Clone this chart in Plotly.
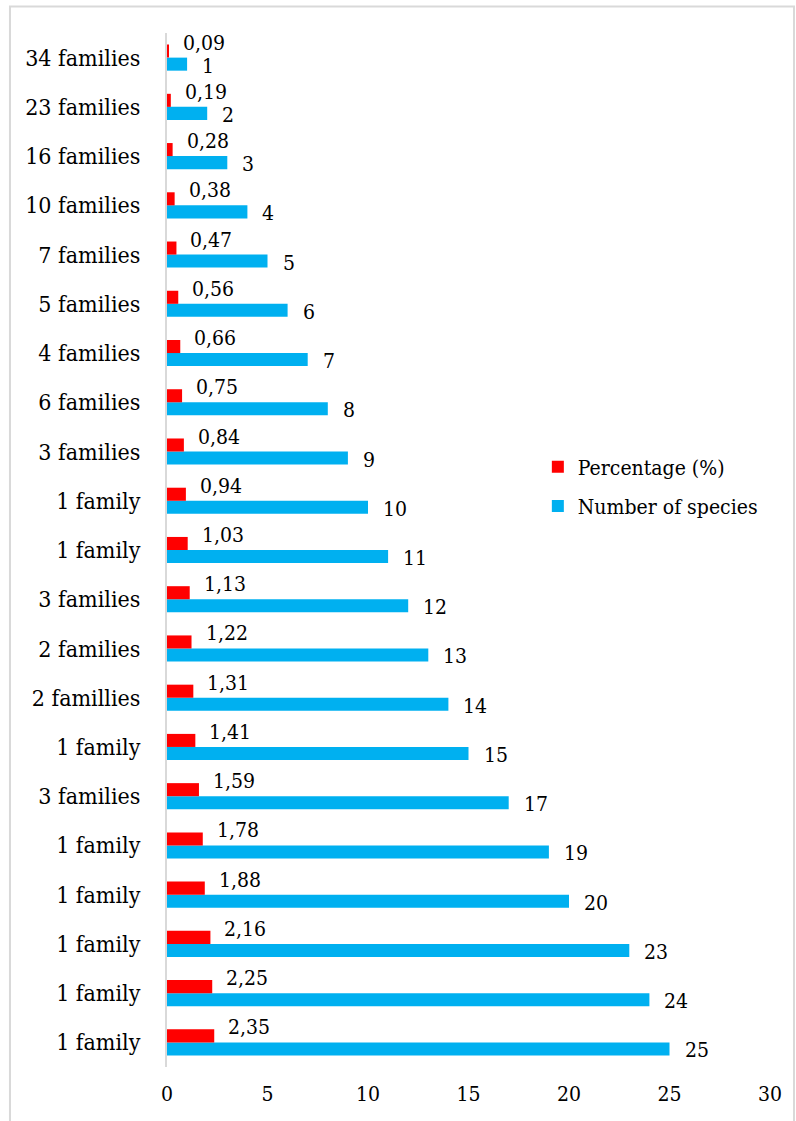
import plotly.graph_objects as go

# Data (bottom to top)
group_labels = ["1 family", "1 family", "1 family", "1 family", "1 family", "3 families",
                "1 family", "2 famillies", "2 families", "3 families", "1 family", "1 family",
                "3 families", "6 families", "4 families", "5 families", "7 families",
                "10 families", "16 families", "23 families", "34 families"]
species = [25, 24, 23, 20, 19, 17, 15, 14, 13, 12, 11, 10, 9, 8, 7, 6, 5, 4, 3, 2, 1]
percentage = [2.35, 2.25, 2.16, 1.88, 1.78, 1.59, 1.41, 1.31, 1.22, 1.13, 1.03, 0.94,
              0.84, 0.75, 0.66, 0.56, 0.47, 0.38, 0.28, 0.19, 0.09]
x_ticks = [0, 5, 10, 15, 20, 25, 30]

FONT = "DejaVu Serif Condensed, DejaVu Serif"
RED = "#FF0000"
BLUE = "#00B0F0"

pos = list(range(len(group_labels)))

fig = go.Figure()
fig.add_trace(go.Bar(y=pos, x=species, orientation="h", name="Number of species",
                     marker=dict(color=BLUE, line=dict(width=0)), legendgroup="b", legendrank=2))
fig.add_trace(go.Bar(y=pos, x=percentage, orientation="h", name="Percentage (%)",
                     marker=dict(color=RED, line=dict(width=0)), legendgroup="a", legendrank=1))

annotations = []
for p, v in zip(pos, percentage):
    annotations.append(dict(x=v, y=p, xref="x", yref="y", text=f"{v:.2f}".replace(".", ","),
                            showarrow=False, xanchor="left", yanchor="middle",
                            xshift=12, yshift=15, font=dict(family=FONT, size=21, color="#000")))
for p, v in zip(pos, species):
    annotations.append(dict(x=v, y=p, xref="x", yref="y", text=str(v),
                            showarrow=False, xanchor="left", yanchor="middle",
                            xshift=13, yshift=-8, font=dict(family=FONT, size=21, color="#000")))

fig.update_layout(
    width=796, height=1121,
    margin=dict(l=167, r=26, t=33, b=54),
    paper_bgcolor="white", plot_bgcolor="white",
    barmode="group", bargap=0.47, bargroupgap=0,
    font=dict(family=FONT, size=21, color="#000"),
    showlegend=True,
    legend=dict(x=0.615, y=0.600, xanchor="left", yanchor="top",
                traceorder="grouped", tracegroupgap=9,
                font=dict(family=FONT, size=21, color="#000"),
                bgcolor="rgba(0,0,0,0)", itemwidth=30),
    annotations=annotations,
    shapes=[dict(type="rect", xref="paper", yref="paper",
                 x0=-0.2604, x1=1.0398, y0=-0.07, y1=1.0256,
                 line=dict(color="#d9d9d9", width=2), fillcolor="rgba(0,0,0,0)")],
    xaxis=dict(range=[0, 30], tickvals=x_ticks, ticktext=[str(t) for t in x_ticks],
               showgrid=False, zeroline=False, showline=False,
               tickfont=dict(family=FONT, size=21, color="#000"),
               ticklabelstandoff=12, fixedrange=True),
    yaxis=dict(range=[-0.5, len(group_labels) - 0.5], tickvals=pos, ticktext=group_labels,
               showgrid=False, zeroline=False, showline=True, linecolor="#d9d9d9", linewidth=2,
               tickfont=dict(family=FONT, size=23, color="#000"),
               ticklabelstandoff=20, fixedrange=True),
)

fig.write_html("out.html")
